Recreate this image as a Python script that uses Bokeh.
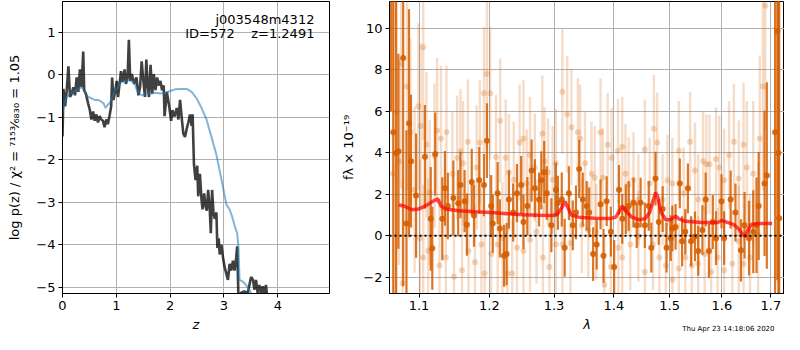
from bokeh.plotting import figure
from bokeh.models import ColumnDataSource, FixedTicker, Span, Label, Title, PrintfTickFormatter
from bokeh.layouts import row
from bokeh.embed import file_html
from bokeh.resources import INLINE

FONT = "DejaVu Sans"

# ---------------- left panel: p(z) ----------------
z_grid = [0.000, 0.018, 0.049, 0.079, 0.110, 0.140, 0.171, 0.201, 0.232, 0.263, 0.293, 0.324,
          0.354, 0.385, 0.403, 0.433, 0.476, 0.507, 0.537, 0.568, 0.598, 0.629, 0.659, 0.690,
          0.720, 0.751, 0.781, 0.812, 0.842, 0.873, 0.904, 0.922, 0.946, 0.983, 1.007, 1.032,
          1.056, 1.087, 1.117, 1.154, 1.178, 1.209, 1.233, 1.258, 1.288, 1.331, 1.374, 1.410,
          1.441, 1.471, 1.496, 1.532, 1.557, 1.581, 1.606, 1.636, 1.667, 1.697, 1.728, 1.758,
          1.789, 1.819, 1.850, 1.880, 1.896, 1.939, 1.982, 2.018, 2.043, 2.080, 2.123, 2.153,
          2.184, 2.215, 2.245, 2.276, 2.307, 2.337, 2.368, 2.399, 2.417, 2.442, 2.472, 2.503,
          2.521, 2.552, 2.583, 2.601, 2.632, 2.656, 2.681, 2.706, 2.736, 2.755, 2.779, 2.804,
          2.828, 2.859, 2.877, 2.902, 2.920, 2.951, 2.982, 3.012, 3.043, 3.074, 3.104, 3.135,
          3.166, 3.196, 3.227, 3.245, 3.270, 3.319, 3.380, 3.442, 3.503, 3.540, 3.564, 3.595,
          3.626, 3.656, 3.687, 3.718, 3.748, 3.779, 3.798]
log_pz = [-1.45, -0.33, -0.74, -0.36, 0.20, -0.52, -0.44, -0.29, -0.48, -0.06, -0.40, 0.13,
          -0.29, 0.55, -0.36, -0.44, -0.67, -0.82, -1.05, -0.86, -1.08, -0.93, -1.12, -0.97,
          -1.05, -1.08, -1.23, -1.05, -1.16, -0.97, -0.74, -0.06, -0.59, -0.36, -0.14, -0.52,
          -0.25, 0.09, -0.17, 0.13, -0.21, -0.06, 0.83, -0.14, 0.02, -0.21, -0.06, -0.48,
          -0.29, 0.32, -0.06, -0.52, 0.36, -0.21, -0.52, 0.24, -0.44, 0.02, -0.36, -0.06,
          -0.25, -0.14, -0.36, -0.25, -0.97, -0.40, -0.74, -1.08, -0.83, -0.98, -0.78, -1.05,
          -0.59, -1.01, -1.39, -1.46, -1.27, -1.12, -0.93, -1.20, -0.93, -2.11, -2.48, -2.14,
          -2.86, -2.33, -2.94, -3.17, -2.79, -3.09, -3.20, -2.71, -3.17, -3.73, -2.71, -3.24,
          -3.39, -3.24, -4.08, -3.85, -4.23, -4.00, -4.30, -4.53, -4.68, -4.83, -4.45, -4.61,
          -4.38, -4.61, -4.30, -4.04, -5.30, -5.13, -5.10, -5.14, -4.76, -4.83, -5.06, -4.83,
          -5.14, -4.95, -5.14, -4.98, -5.17, -4.95, -5.17]

z_prior = [0.000, 0.031, 0.079, 0.140, 0.201, 0.293, 0.354, 0.415, 0.476, 0.537, 0.598, 0.659,
           0.720, 0.763, 0.800, 0.842, 0.873, 0.922, 0.965, 1.026, 1.087, 1.148, 1.209, 1.270,
           1.331, 1.374, 1.423, 1.484, 1.545, 1.636, 1.728, 1.819, 1.911, 2.002, 2.092, 2.184,
           2.307, 2.399, 2.491, 2.583, 2.675, 2.767, 2.859, 2.920, 2.982, 3.043, 3.104, 3.147,
           3.196, 3.245, 3.270, 3.288, 3.350, 3.411, 3.472, 3.515, 3.600]
log_pz_prior = [-0.89, -0.67, -0.52, -0.44, -0.40, -0.33, -0.29, -0.40, -0.52, -0.55, -0.59, -0.59,
                -0.63, -0.67, -0.78, -0.70, -0.67, -0.55, -0.40, -0.29, -0.17, -0.14, -0.12, -0.14,
                -0.17, -0.33, -0.44, -0.48, -0.44, -0.44, -0.42, -0.44, -0.42, -0.38, -0.34, -0.33,
                -0.33, -0.40, -0.55, -0.78, -1.05, -1.46, -1.88, -2.26, -2.64, -3.05, -3.17, -3.32,
                -3.55, -3.73, -4.08, -4.83, -4.87, -4.95, -5.06, -5.17, -5.40]

z_ticks = [0, 1, 2, 3, 4]
logp_ticks = [-5, -4, -3, -2, -1, 0, 1]

# ---------------- right panel: spectrum ----------------
lam_dark = [1.0625, 1.0655, 1.0690, 1.0722, 1.0786, 1.0830, 1.0864, 1.0891, 1.0960, 1.1080,
            1.1160, 1.1182, 1.1222, 1.1321, 1.1358, 1.1399, 1.1477, 1.1546, 1.1578, 1.1638,
            1.1671, 1.1741, 1.1774, 1.1850, 1.1921, 1.1964, 1.2027, 1.2051, 1.2124, 1.2157,
            1.2220, 1.2259, 1.2294, 1.2358, 1.2417, 1.2482, 1.2517, 1.2578, 1.2644, 1.2695,
            1.2761, 1.2797, 1.2843, 1.2884, 1.2957, 1.3030, 1.3062, 1.3125, 1.3172, 1.3241,
            1.3305, 1.3358, 1.3411, 1.3470, 1.3535, 1.3578, 1.3644, 1.3704, 1.3770, 1.3820,
            1.3875, 1.3947, 1.4004, 1.4088, 1.4145, 1.4207, 1.4258, 1.4343, 1.4401, 1.4470,
            1.4546, 1.4616, 1.4663, 1.4739, 1.4798, 1.4870, 1.4942, 1.5020, 1.5050, 1.5110,
            1.5189, 1.5232, 1.5293, 1.5342, 1.5403, 1.5477, 1.5539, 1.5620, 1.5683, 1.5746,
            1.5822, 1.5885, 1.5993, 1.6045, 1.6175, 1.6272, 1.6383, 1.6456, 1.6548, 1.6634,
            1.6701, 1.6747, 1.6868, 1.6916, 1.7090, 1.7138, 1.7160, 1.7176]
flux_dark = [14.0, 5.0, 4.0, 4.08, 8.57, 0.59, 5.43, 3.60, 1.94, 3.81,
             0.82, -0.60, 3.95, 0.82, 2.29, 1.44, 1.83, 1.57, 2.45, 1.67,
             0.54, 2.60, 0.98, 2.68, 2.45, 4.59, 1.44, 0.59, 2.06, 0.36,
             -0.96, -0.88, 1.75, 1.13, 2.06, 2.45, 0.67, 1.44, 3.15, 2.29,
             1.75, 2.68, 3.07, 2.06, 0.51, 2.22, 1.60, 1.75, -0.57, 2.06,
             0.51, 1.13, 3.22, 1.75, 1.44, 1.13, -0.88, -0.42, 1.52, -0.96,
             1.67, 0.20, -1.50, 2.22, 0.82, 1.29, 1.44, 1.60, 0.51, 1.60,
             0.51, 1.44, -0.57, 2.76, 0.67, 1.29, -0.57, -0.11, 0.36, 0.43,
             2.53, -0.26, 0.20, 2.29, -0.26, -0.03, -0.73, 0.28, 1.75, -0.73,
             0.67, -0.11, 1.67, -0.11, 1.75, 1.13, -0.70, 0.51, -0.11, 0.20,
             0.51, 1.44, 2.53, 2.91, 5.0, 9.86, 4.0, 0.85]
err_dark = [8.0, 12.0, 12.0, 4.7, 11.0, 4.5, 5.5, 3.2, 3.0, 2.5,
            2.5, 2.0, 2.0, 2.0, 1.8, 1.6, 1.8, 1.6, 1.6, 1.5,
            1.5, 1.6, 1.5, 1.6, 1.5, 1.8, 1.5, 1.4, 1.5, 1.4,
            1.5, 1.5, 1.4, 1.4, 1.4, 1.4, 1.3, 1.4, 1.5, 1.4,
            1.3, 1.4, 1.5, 1.3, 1.3, 1.3, 1.3, 1.3, 1.4, 1.3,
            1.2, 1.3, 1.4, 1.3, 1.2, 1.2, 1.3, 1.2, 1.2, 1.3,
            1.2, 1.2, 1.3, 1.2, 1.2, 1.2, 1.2, 1.2, 1.1, 1.2,
            1.1, 1.2, 1.2, 1.3, 1.1, 1.1, 1.2, 1.1, 1.1, 1.1,
            1.2, 1.2, 1.1, 1.2, 1.2, 1.2, 1.2, 1.2, 1.3, 1.3,
            1.3, 1.3, 1.3, 1.3, 1.4, 1.4, 1.5, 1.6, 1.8, 2.0,
            2.3, 2.6, 3.5, 4.5, 12.0, 12.0, 12.0, 12.0]

lam_light = [1.0650, 1.0700, 1.0730, 1.0760, 1.0838, 1.0882, 1.0939, 1.0991, 1.1022, 1.1057,
             1.1102, 1.1146, 1.1213, 1.1249, 1.1303, 1.1380, 1.1463, 1.1532, 1.1578, 1.1615,
             1.1685, 1.1812, 1.1860, 1.1921, 1.1964, 1.2012, 1.2099, 1.2162, 1.2245, 1.2294,
             1.2368, 1.2458, 1.2517, 1.2568, 1.2619, 1.2695, 1.2812, 1.2848, 1.2905, 1.2977,
             1.3030, 1.3135, 1.3214, 1.3283, 1.3389, 1.3427, 1.3508, 1.3617, 1.3672, 1.3770,
             1.3809, 1.3892, 1.3959, 1.4071, 1.4145, 1.4201, 1.4258, 1.4343, 1.4430, 1.4546,
             1.4634, 1.4710, 1.4769, 1.4870, 1.4959, 1.5050, 1.5171, 1.5262, 1.5385, 1.5477,
             1.5539, 1.5633, 1.5696, 1.5759, 1.5885, 1.5949, 1.6045, 1.6143, 1.6240, 1.6338,
             1.6436, 1.6502, 1.6634, 1.6768, 1.6835, 1.6882,
             1.0778, 1.1013, 1.1057, 1.1124, 1.1281, 1.1371, 1.1486, 1.1601, 1.1694, 1.1788,
             1.1883, 1.1931, 1.2027, 1.2124, 1.2196, 1.2270, 1.2343, 1.2417, 1.2517, 1.2619,
             1.2721, 1.2822, 1.2926, 1.3030, 1.3135, 1.3266, 1.3454, 1.3562, 1.3698, 1.3836,
             1.3947, 1.4077, 1.4145, 1.4286, 1.4430, 1.4546, 1.4692, 1.4810, 1.4929, 1.5050,
             1.5171, 1.5293, 1.5416, 1.5539, 1.5664, 1.5790, 1.5917, 1.6045, 1.6208, 1.6338,
             1.6436, 1.6568, 1.6734]
flux_light = [3.0, 6.0, 3.60, 8.30, 7.20, 5.00, 2.22, 6.25, 5.30, 9.10,
              4.40, 2.10, 3.85, 5.08, 4.70, 5.00, 3.00, 3.77, 4.08, 3.50,
              4.54, 3.30, 4.50, 6.87, 7.80, 6.87, 3.80, 5.55, 3.77, 3.07,
              2.70, 4.50, 4.70, 2.53, 3.90, 3.30, 4.93, 3.60, 3.07, 2.70,
              3.50, 6.95, 5.86, 5.24, 5.00, 4.70, 3.50, 3.00, 2.80, 5.00,
              2.80, 4.39, 3.77, 4.10, 4.30, 3.00, 2.45, 2.70, 1.75, 4.16,
              2.53, 5.16, 4.50, 1.75, 2.68, 2.53, 4.10, 2.06, 4.54, 3.15,
              1.75, 3.60, 3.45, 3.45, 3.70, 3.30, 2.68, 3.90, 4.54, 2.76,
              4.39, 3.30, 3.00, 4.70, 7.20, 11.10,
              -2.28, -0.11, -1.04, -0.73, -1.43, -1.04, -1.97, -1.66, -0.73, -1.27,
              -0.42, -1.81, -0.88, -0.42, -0.11, -1.81, -1.81, -0.57, -0.73, -0.19,
              0.20, -1.04, -1.50, -0.42, -0.42, -0.34, 0.51, 0.28, 0.20, -2.36,
              -1.50, -0.57, -1.04, -0.42, -0.03, -1.74, -0.42, -1.04, -1.43, -2.12,
              -1.58, -1.04, -1.43, -1.35, -0.88, -1.74, -1.04, -1.66, -1.35, -0.26,
              -1.35, -1.04, 0.05]
err_light = [10.0, 9.0, 5.0, 6.0, 5.0, 4.5, 4.0, 4.0, 4.0, 4.5,
             3.5, 3.5, 3.5, 3.5, 3.5, 3.2, 3.0, 3.0, 3.0, 3.0,
             3.0, 3.0, 3.0, 3.2, 3.5, 3.2, 3.0, 3.0, 2.8, 2.8,
             2.8, 2.8, 2.8, 2.6, 2.8, 2.6, 2.8, 2.6, 2.6, 2.6,
             2.6, 3.0, 2.8, 2.8, 2.6, 2.6, 2.5, 2.5, 2.5, 2.6,
             2.4, 2.5, 2.4, 2.5, 2.4, 2.4, 2.3, 2.3, 2.2, 2.4,
             2.2, 2.6, 2.4, 2.2, 2.2, 2.2, 2.4, 2.2, 2.4, 2.3,
             2.2, 2.4, 2.4, 2.4, 2.5, 2.5, 2.5, 2.6, 2.8, 2.8,
             3.0, 3.2, 3.5, 4.0, 5.0, 6.0,
             5.0, 3.8, 3.5, 3.5, 3.2, 3.0, 3.0, 3.0, 2.8, 2.8,
             2.8, 2.8, 2.8, 2.7, 2.7, 2.7, 2.6, 2.6, 2.6, 2.5,
             2.5, 2.5, 2.5, 2.4, 2.4, 2.4, 2.3, 2.3, 2.3, 2.4,
             2.3, 2.3, 2.2, 2.2, 2.2, 2.2, 2.2, 2.2, 2.2, 2.2,
             2.2, 2.2, 2.3, 2.3, 2.3, 2.4, 2.4, 2.5, 2.6, 2.7,
             2.8, 3.0, 3.5]

lam_model = [1.0730, 1.0795, 1.0904, 1.0991, 1.1102, 1.1191, 1.1258, 1.1303, 1.1371, 1.1555,
             1.1788, 1.2027, 1.2270, 1.2517, 1.2771, 1.2977, 1.3056, 1.3125, 1.3178, 1.3230,
             1.3283, 1.3400, 1.3672, 1.3947, 1.4031, 1.4099, 1.4145, 1.4218, 1.4315, 1.4430,
             1.4546, 1.4634, 1.4692, 1.4739, 1.4781, 1.4840, 1.4929, 1.5020, 1.5110, 1.5171,
             1.5293, 1.5602, 1.5917, 1.5993, 1.6079, 1.6240, 1.6338, 1.6423, 1.6469, 1.6535,
             1.6601, 1.6768, 1.7028]
flux_model = [1.49, 1.44, 1.26, 1.29, 1.47, 1.67, 1.78, 1.44, 1.29, 1.21,
              1.16, 1.13, 1.07, 1.02, 0.99, 0.98, 1.05, 1.36, 1.66, 1.32,
              1.00, 0.90, 0.85, 0.84, 0.90, 1.21, 1.44, 1.16, 0.90, 0.78,
              0.82, 1.13, 1.67, 2.09, 1.88, 1.13, 0.78, 0.78, 0.95, 0.82,
              0.70, 0.64, 0.64, 0.74, 0.67, 0.54, 0.33, 0.05, -0.03, 0.33,
              0.56, 0.59, 0.59]

lam_ticks = [1.1, 1.2, 1.3, 1.4, 1.5, 1.6, 1.7]
flux_ticks = [-2, 0, 2, 4, 6, 8, 10]

ORANGE = "#d55e00"
GRID = "#b0b0b0"


def style(p):
    p.outline_line_color = "black"
    p.outline_line_width = 1
    p.outline_line_alpha = 1
    for ax in (p.xaxis[0], p.yaxis[0]):
        ax.major_label_text_font = FONT
        ax.major_label_text_font_size = "13px"
        ax.major_label_text_color = "black"
        ax.axis_label_text_font = FONT
        ax.axis_label_text_font_size = "13px"
        ax.axis_label_text_color = "black"
        ax.major_tick_in = 0
        ax.major_tick_out = 4
        ax.minor_tick_line_color = None
        ax.axis_line_color = "black"
        ax.major_tick_line_color = "black"
        ax.major_label_standoff = 3
        ax.axis_label_standoff = 4
    p.xaxis.axis_label_text_font_style = "italic"
    p.yaxis.axis_label_text_font_style = "normal"
    p.grid.grid_line_color = GRID
    p.grid.grid_line_width = 1


def minus(ticks):
    return {t: ("\u2212" + str(abs(t)) if t < 0 else str(t)) for t in ticks}


FRAME_H = 292

# ---- left figure ----
p1 = figure(frame_width=267, frame_height=FRAME_H, x_range=(0, 4.96), y_range=(-5.15, 1.73),
            output_backend="svg", toolbar_location=None,
            min_border_left=62, min_border_right=4, min_border_top=1, min_border_bottom=41)
style(p1)
p1.yaxis.axis_label_standoff = 11
p1.xaxis.ticker = FixedTicker(ticks=z_ticks)
p1.yaxis.ticker = FixedTicker(ticks=logp_ticks)
p1.yaxis.major_label_overrides = minus(logp_ticks)
p1.xaxis.axis_label = "z"
p1.yaxis.axis_label = "log p(z) / \u03c7\u00b2 = \u2077\u00b9\u2075\u00b3\u2044\u2086\u2088\u2083\u2080 = 1.05"

p1.line(z_grid, log_pz, line_color="black", line_alpha=0.75, line_width=2.6)
p1.line(z_prior, log_pz_prior, line_color="#1f77b4", line_alpha=0.55, line_width=2)

p1.add_layout(Label(x=4.68, y=1.30, text="j003548m4312",
                    text_align="right", text_baseline="middle", text_font=FONT,
                    text_font_size="13px", text_color="black"))
p1.add_layout(Label(x=4.68, y=0.98, text="ID=572\u00a0\u00a0\u00a0\u00a0z=1.2491",
                    text_align="right", text_baseline="middle", text_font=FONT,
                    text_font_size="13px", text_color="black"))

# ---- right figure ----
p2 = figure(frame_width=395, frame_height=FRAME_H, x_axis_type="log", x_range=(1.0605, 1.729),
            y_range=(-2.78, 11.3), output_backend="svg", toolbar_location=None,
            min_border_left=56, min_border_right=0, min_border_top=1, min_border_bottom=0)
style(p2)
p2.xaxis.ticker = FixedTicker(ticks=lam_ticks)
p2.xaxis.formatter = PrintfTickFormatter(format="%.1f")
p2.yaxis.ticker = FixedTicker(ticks=flux_ticks)
p2.yaxis.major_label_overrides = minus(flux_ticks)
p2.xaxis.axis_label = "\u03bb"
p2.yaxis.axis_label = "f\u03bb \u00d7 10\u207b\u00b9\u2079"

light = ColumnDataSource(dict(
    x=lam_light, y=flux_light,
    lo=[f - e for f, e in zip(flux_light, err_light)],
    hi=[f + e for f, e in zip(flux_light, err_light)]))
dark = ColumnDataSource(dict(
    x=lam_dark, y=flux_dark,
    lo=[f - e for f, e in zip(flux_dark, err_dark)],
    hi=[f + e for f, e in zip(flux_dark, err_dark)]))

p2.segment(x0="x", y0="lo", x1="x", y1="hi", source=light, line_color=ORANGE,
           line_alpha=0.22, line_width=2.4)
p2.scatter(x="x", y="y", source=light, size=6, fill_color=ORANGE, fill_alpha=0.25,
           line_color=None)
p2.segment(x0="x", y0="lo", x1="x", y1="hi", source=dark, line_color=ORANGE,
           line_alpha=0.85, line_width=2.2)
p2.scatter(x="x", y="y", source=dark, size=6, fill_color=ORANGE, fill_alpha=0.9,
           line_color=None)

p2.line(lam_model, flux_model, line_color="red", line_alpha=0.72, line_width=3.5)
p2.add_layout(Span(location=0, dimension="width", line_color="black", line_width=2,
                   line_dash="2 3"))

p2.add_layout(Title(text="Thu Apr 23 14:18:06 2020", align="right", vertical_align="top",
                    text_font=FONT, text_font_size="7px", text_font_style="normal",
                    text_color="black", standoff=-20, offset=10), "below")

layout = row(p1, p2)
open("out.html", "w").write(file_html(layout, INLINE))
